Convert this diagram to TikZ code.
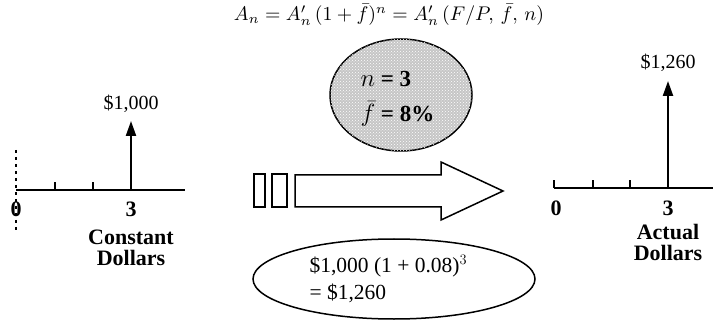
\documentclass[tikz,border=0pt]{standalone}
\usepackage{fontspec}
\setmainfont{Liberation Serif}
\usepackage{graphicx}
\usetikzlibrary{arrows.meta,patterns,shapes.geometric}
\begin{document}
\begin{tikzpicture}[x=1pt,y=-1pt,
  axis/.style={line width=1.8pt},
  tick/.style={line width=1.3pt},
  cash/.style={line width=2.2pt,-{Triangle[length=15pt,width=10pt]}},
  lbl/.style={font=\fontsize{20}{21}\selectfont,anchor=base},
  blbl/.style={font=\fontsize{22}{21}\selectfont\bfseries,anchor=base},
  boxy/.style={draw,line width=1.5pt}]
\useasboundingbox (0,0) rectangle (714,320);
% top equation
\node[inner sep=0pt] (eq) at (389,15) {\resizebox{310pt}{!}{$A_n = A'_n\,(1+\bar f)^n = A'_n\,(F/P,\,\bar f,\,n)$}};
% gray ellipse
\node (gell) at (401,95) [ellipse,minimum width=142pt,minimum height=112pt,draw,line width=1.5pt,fill=gray!45,
  postaction={pattern=crosshatch dots,pattern color=white}] {};
\node[anchor=base west,font=\fontsize{23}{24}\selectfont\bfseries] (n3) at (357,87) {$n$ = 3};
\node[anchor=base west,font=\fontsize{23}{24}\selectfont\bfseries] (f8) at (357,122) {$\bar f$ = 8\%};
% left timeline
\coordinate (l0) at (16,190);
\coordinate (lend) at (185,190);
\coordinate (l3) at (131,190);
\coordinate (ltop) at (131,121);
\draw[axis] (l0) -- (lend);
\draw[tick] (55,190) -- (55,182);
\draw[tick] (93,190) -- (93,182);
\draw[line width=1.8pt,dash pattern=on 3pt off 4pt] (16,150) -- (16,232);
\draw[cash] (l3) -- (ltop);
\node[lbl] (v1) at (131,110) {\$1,000};
\node[blbl] (z1) at (16,217) {0};
\node[blbl] (t1) at (131,217) {3};
\node[blbl,align=center,anchor=north] (cd) at (131,226) {Constant\\Dollars};
% right timeline
\coordinate (r0) at (554,188);
\coordinate (rend) at (713,188);
\coordinate (r3) at (668,188);
\coordinate (rtop) at (668,81);
\draw[axis] (r0) -- (rend);
\draw[tick] (554,188) -- (554,180);
\draw[tick] (593,188) -- (593,180);
\draw[tick] (630,188) -- (630,180);
\draw[cash] (r3) -- (rtop);
\node[lbl] (v2) at (668,69) {\$1,260};
\node[blbl] (z2) at (556,216) {0};
\node[blbl] (t2) at (668,216) {3};
\node[blbl,align=center,anchor=north] (ad) at (668,221) {Actual\\Dollars};
% big arrow
\draw[boxy,fill=white] (254,174) rectangle (265,207);
\draw[boxy,fill=white] (272,174) rectangle (287,207);
\draw[boxy,fill=white,line join=miter] (295,175) -- (441,175) -- (441,162) -- (503,191) -- (441,220) -- (441,207) -- (295,207) -- cycle;
% bottom ellipse
\node (bell) at (394,279) [ellipse,draw,line width=1.5pt,minimum width=282pt,minimum height=80pt] {};
\node[anchor=west,align=left,font=\fontsize{21.5}{27}\selectfont] (calc) at (306,279) {\$1,000 (1 + 0.08)$^3$\\= \$1,260};
\end{tikzpicture}
\end{document}
